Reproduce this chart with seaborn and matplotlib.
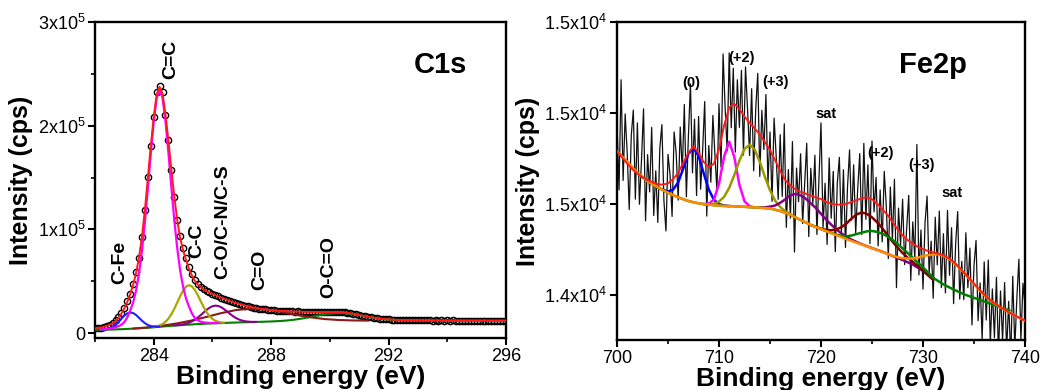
import numpy as np
import matplotlib
matplotlib.use("Agg")
import matplotlib.pyplot as plt
from matplotlib.ticker import MultipleLocator, FixedLocator, FixedFormatter
import seaborn as sns

# ---------------- C1s panel ----------------
c1s_energy = np.round(np.arange(282.0, 296.01, 0.1), 2)
c1s_fit = [4500, 4900, 5400, 6000, 6800, 7900, 9400, 11600, 14700, 18800,
           23800, 30000, 37500, 46500, 58000, 73000, 93000, 119000, 150000, 180000,
           208000, 230000, 237500, 231000, 211000, 186000, 158000, 132000, 109000, 92000,
           80000, 70500, 62000, 55500, 50500, 46800, 44200, 42200, 40500, 39000,
           37700, 36400, 35200, 34000, 32900, 31800, 30800, 29800, 28900, 28000,
           27200, 26500, 25800, 25200, 24600, 24100, 23600, 23200, 22800, 22400,
           22100, 21800, 21600, 21400, 21200, 21000, 20900, 20800, 20700, 20600,
           20500, 20400, 20350, 20300, 20300, 20300, 20300, 20300, 20300, 20300,
           20300, 20250, 20200, 20100, 20000, 19800, 19500, 19100, 18600, 18000,
           17400, 16800, 16200, 15700, 15300, 14800, 14350, 13950, 13600, 13350,
           13150, 12950, 12800, 12650, 12550, 12450, 12380, 12320, 12270, 12220,
           12170, 12140, 12130, 12120, 12110, 12100, 12090, 12080, 12070, 12060,
           12050, 12040, 12030, 12020, 12010, 12000, 11990, 11980, 11970, 11960,
           11950, 11945, 11940, 11935, 11930, 11925, 11920, 11915, 11910, 11905,
           11900]
c1s_counts = [4700, 5100, 5300, 6200, 6900, 8100, 9700, 12100, 15400, 19500,
              24500, 30500, 38000, 47500, 58500, 72500, 92500, 118500, 150500, 180500,
              208500, 232000, 238500, 232000, 210500, 186000, 157500, 131500, 109500, 94000,
              82000, 72000, 63500, 56500, 51000, 47000, 44300, 42100, 40600, 39200,
              37900, 36300, 35400, 34200, 33000, 32000, 30700, 29900, 29100, 28100,
              27400, 26400, 26000, 25300, 24500, 24300, 23500, 23300, 22700, 22600,
              22000, 21900, 21500, 21600, 21100, 21200, 20800, 21000, 20600, 20800,
              20400, 20600, 20200, 20500, 20200, 20500, 20200, 20400, 20100, 20500,
              20200, 20500, 20100, 20300, 19900, 19900, 19600, 19000, 18700, 17900,
              17500, 16700, 16300, 15600, 15400, 14700, 14400, 13900, 13700, 13300,
              13200, 12900, 12900, 12600, 12600, 12400, 12450, 12280, 12330, 12180,
              12240, 12100, 12190, 12080, 12170, 12050, 12150, 12030, 12120, 12010,
              12110, 11990, 12090, 11970, 12070, 11950, 12050, 11930, 12030, 11920,
              12010, 11900, 11990, 11880, 11980, 11870, 11970, 11860, 11960, 11850,
              11900]

cfe_x = np.round(np.arange(282.2, 284.21, 0.1), 2)
cfe_y = [3220, 3450, 3900, 4710, 6050, 8070, 10750, 13820, 16770, 18970, 19870,
         19260, 17350, 14690, 11910, 9520, 7790, 6740, 6220, 6070, 6135]

cc2_x = np.round(np.arange(282.2, 286.21, 0.1), 2)
cc2_y = [3300, 3560, 3830, 4300, 4880, 5570, 6570, 8000, 10600, 15200,
         21570, 29620, 41280, 57450, 79430, 107020, 139120, 172930, 203950, 226580,
         235020, 227060, 204900, 174340, 140970, 109290, 82100, 60500, 44690, 33370,
         25650, 19000, 14500, 12200, 10900, 10300, 9950, 9750, 9650, 9600, 9630]

cc_x = np.round(np.arange(284.0, 286.41, 0.1), 2)
cc_y = [5825, 6380, 7260, 8640, 10750, 13840, 18070, 23290, 29400, 35500,
        40890, 44670, 46150, 45020, 41580, 36530, 30780, 25020, 20150, 16280,
        13550, 11800, 10770, 10240, 10015]

co_x = np.round(np.arange(284.7, 287.51, 0.1), 2)
co_y = [7265, 7570, 7915, 8400, 9030, 9950, 11210, 12850, 14890, 17280,
        19830, 22290, 24390, 25830, 26420, 26060, 24850, 22980, 20750, 18430,
        16280, 14480, 13090, 12080, 11420, 11040, 10815, 10750, 10725]

cdo_x = np.round(np.arange(283.3, 291.31, 0.5), 2)
cdo_y = [4314, 5420, 7070, 9300, 12120, 15550, 19200, 22150, 23500, 22870,
         20660, 17820, 15300, 13540, 12560, 12130, 11984]

occo_x = [282.0, 282.5, 283.0, 283.5, 284.0, 284.5, 285.0, 285.5, 286.0, 286.5,
          287.0, 287.5, 288.0, 288.25, 288.5, 288.75, 289.0, 289.25, 289.5, 289.75,
          290.0, 290.25, 290.5, 290.75, 291.0, 291.25, 291.5, 291.75, 292.0, 292.25,
          292.5, 293.0, 293.5, 294.0, 294.5, 295.0, 295.5, 296.0]
occo_y = [3000, 3300, 3800, 4550, 5550, 6740, 7790, 8630, 9300, 9840,
          10320, 10680, 11140, 11490, 12000, 12720, 13730, 14975, 16370, 17690,
          18740, 19230, 19090, 18340, 17200, 15895, 14670, 13667, 12950, 12483,
          12210, 12010, 11960, 11960, 11950, 11930, 11915, 11900]

c1s_labels = ["C-Fe", "C=C", "C-C", "C-O/C-N/C-S", "C=O", "O-C=O"]
c1s_label_x = [282.85, 284.58, 285.46, 286.34, 287.62, 289.95]
c1s_label_y = [68000, 264000, 89000, 107500, 61000, 64000]

# ---------------- Fe2p panel ----------------
fe_energy = np.round(np.arange(700.0, 740.01, 0.2), 2)
fe_counts = [14940, 14576, 15182, 14628, 14994, 14780, 14468, 14876, 15015, 14525,
             14945, 14497, 14739, 15022, 14406, 14770, 14565, 14920, 14435, 14681,
             14397, 14806, 14935, 14517, 14350, 14772, 14660, 14430, 14895, 14780,
             14520, 14922, 14674, 15046, 14538, 14870, 15160, 14670, 14965, 14545,
             14980, 14580, 14800, 15062, 14432, 14820, 14618, 14986, 14770, 14570,
             15050, 14702, 15324, 15030, 14790, 15330, 14918, 15246, 14784, 15182,
             14920, 15234, 14768, 15253, 15019, 14765, 15133, 14681, 15021, 15217,
             14650, 15014, 14798, 15101, 14613, 14895, 14513, 14971, 14768, 14524,
             14880, 14540, 14940, 14370, 14688, 14420, 14842, 14234, 14696, 14511,
             14775, 14391, 14607, 14833, 14319, 14695, 14501, 14767, 14331, 14639,
             14945, 14369, 14613, 14276, 14752, 14420, 14678, 14236, 14615, 14755,
             14335, 14687, 14259, 14592, 14796, 14410, 14714, 14338, 14582, 14776,
             14330, 14832, 14414, 14714, 14281, 14845, 14455, 14645, 14268, 14576,
             14290, 14678, 14486, 14198, 14592, 14300, 14634, 14038, 14476, 14272,
             14525, 14165, 14365, 14546, 14078, 14400, 14193, 14826, 14108, 14355,
             14030, 14396, 14542, 14118, 14294, 13980, 14426, 14163, 14460, 14038,
             14335, 14009, 14463, 14106, 14368, 13950, 14279, 14457, 13975, 14183,
             13972, 14340, 14038, 14256, 13833, 14160, 14298, 13856, 14064, 13752,
             14180, 13860, 14190, 13730, 14031, 13763, 14095, 13668, 14020, 13743,
             14066, 13690, 13963, 13647, 14101, 13705, 13979, 14194, 13748, 14062,
             13937]

fe_grid = np.round(np.arange(700.0, 740.01, 0.5), 2)
fe_fit = [14790, 14755, 14720, 14690, 14665, 14645, 14630, 14618, 14607, 14605,
          14612, 14635, 14670, 14725, 14780, 14815, 14780, 14730, 14700, 14720,
          14800, 14930, 15030, 15050, 15020, 14980, 14945, 14915, 14880, 14840,
          14795, 14740, 14680, 14630, 14600, 14580, 14565, 14555, 14545, 14535,
          14525, 14510, 14500, 14495, 14495, 14500, 14510, 14520, 14530, 14535,
          14525, 14500, 14470, 14440, 14400, 14360, 14325, 14300, 14280, 14262,
          14250, 14240, 14232, 14226, 14216, 14200, 14180, 14152, 14122, 14092,
          14060, 14030, 14000, 13975, 13953, 13934, 13916, 13900, 13885, 13871,
          13857]
fe_sat2 = [14790, 14760, 14730, 14700, 14670, 14647, 14625, 14607, 14590, 14575,
           14560, 14547, 14535, 14525, 14515, 14508, 14502, 14498, 14495, 14492,
           14490, 14488, 14487, 14486, 14484, 14483, 14481, 14480, 14478, 14476,
           14474, 14467, 14460, 14450, 14440, 14425, 14410, 14397, 14383, 14372,
           14360, 14349, 14338, 14327, 14316, 14305, 14295, 14285, 14275, 14265,
           14255, 14245, 14235, 14225, 14214, 14206, 14200, 14198, 14199, 14203,
           14212, 14217, 14220, 14222, 14214, 14199, 14177, 14151, 14121, 14089,
           14057, 14027, 13998, 13973, 13952, 13933, 13915, 13899, 13884, 13870,
           13856]

fe0_x = np.round(np.arange(704.0, 711.01, 0.5), 2)
fe0_y = [14590, 14577, 14568, 14577, 14618, 14694, 14775, 14808, 14762, 14667,
         14578, 14522, 14498, 14490, 14487]

fe2_x = np.round(np.arange(708.5, 713.51, 0.5), 2)
fe2_y = [14498, 14500, 14523, 14610, 14759, 14842, 14757, 14604, 14514, 14486, 14480]

fe3_x = np.round(np.arange(709.0, 717.01, 0.5), 2)
fe3_y = [14497, 14500, 14512, 14538, 14587, 14658, 14737, 14801, 14825, 14798,
         14731, 14648, 14574, 14517, 14482, 14458, 14442]

sat1_x = np.round(np.arange(714.0, 731.01, 0.5), 2)
sat1_y = [14479, 14480, 14484, 14490, 14505, 14524, 14546, 14554, 14546, 14528,
          14502, 14476, 14444, 14413, 14385, 14359, 14337, 14318, 14302, 14289,
          14277, 14266, 14256, 14246, 14236, 14225, 14213, 14201, 14190, 14178,
          14165, 14148, 14130, 14106, 14082]

fe2b_x = np.round(np.arange(719.0, 731.01, 0.5), 2)
fe2b_y = [14383, 14373, 14363, 14356, 14354, 14358, 14371, 14391, 14419, 14441,
          14452, 14444, 14425, 14398, 14366, 14329, 14292, 14259, 14229, 14203,
          14180, 14157, 14135, 14108, 14082]

fe3b_x = np.round(np.arange(700.0, 738.51, 0.5), 2)
fe3b_y = [14790, 14760, 14730, 14700, 14670, 14647, 14625, 14607, 14590, 14575,
          14560, 14547, 14535, 14525, 14515, 14508, 14502, 14498, 14495, 14492,
          14490, 14488, 14487, 14486, 14484, 14483, 14481, 14480, 14478, 14476,
          14474, 14467, 14460, 14450, 14440, 14425, 14410, 14397, 14383, 14372,
          14360, 14349, 14339, 14330, 14324, 14321, 14325, 14333, 14341, 14348,
          14350, 14345, 14335, 14321, 14302, 14279, 14254, 14228, 14203, 14176,
          14150, 14121, 14093, 14074, 14056, 14042, 14028, 14015, 14002, 13992,
          13982, 13972, 13962, 13952, 13942, 13932, 13922, 13912]

fe_labels = ["(0)", "(+2)", "(+3)", "sat", "(+2)", "(+3)", "sat"]
fe_label_x = [707.3, 712.2, 715.5, 720.5, 725.8, 729.9, 732.8]
fe_label_y = [15166, 15300, 15171, 14994, 14777, 14713, 14557]

fe_yticks = [14000, 14500, 15000, 15500]
fe_yticklabels = ["1.4x10^4", "1.5x10^4", "1.5x10^4", "1.5x10^4"]
c1s_yticks = [0, 100000, 200000, 300000]
c1s_yticklabels = ["0", "1x10^5", "2x10^5", "3x10^5"]

# ---------------- styling ----------------
sns.set_theme(style="ticks")
plt.rcParams["font.family"] = ["Liberation Sans", "DejaVu Sans"]
plt.rcParams.update({
    "mathtext.fontset": "custom",
    "mathtext.rm": "Liberation Sans",
    "mathtext.it": "Liberation Sans:italic",
    "mathtext.bf": "Liberation Sans:bold",
    "axes.edgecolor": "black",
    "axes.linewidth": 1.7,
    "xtick.color": "black",
    "ytick.color": "black",
    "text.color": "black",
    "axes.labelcolor": "black",
    "xtick.direction": "out",
    "ytick.direction": "out",
})

fig = plt.figure(figsize=(10.48, 3.9), dpi=100)
ax1 = fig.add_axes([95 / 1048, 52 / 390, 411 / 1048, 316 / 390])
ax2 = fig.add_axes([617 / 1048, 50 / 390, 408 / 1048, 318 / 390])


def line(ax, x, y, color, lw, z):
    sns.lineplot(x=list(x), y=list(y), ax=ax, color=color, lw=lw, sort=False,
                 estimator=None, legend=False, zorder=z)


# C1s
sns.lineplot(x=list(c1s_energy), y=c1s_counts, ax=ax1, sort=False, estimator=None,
             legend=False, linestyle="", marker="o", markersize=4.5,
             markerfacecolor="none", markeredgecolor="black", markeredgewidth=1.0,
             zorder=2)
line(ax1, occo_x, occo_y, "#008000", 1.5, 3)
line(ax1, cdo_x, cdo_y, "#8b1a1a", 1.5, 3)
line(ax1, co_x, co_y, "#8b008b", 1.5, 3)
line(ax1, cc_x, cc_y, "#a8a800", 1.6, 3)
line(ax1, cfe_x, cfe_y, "#1f1fff", 1.5, 3)
line(ax1, cc2_x, cc2_y, "#ff00ff", 1.6, 3)
line(ax1, c1s_energy, c1s_fit, "#ff1a1a", 1.4, 4)

for t, x, y in zip(c1s_labels, c1s_label_x, c1s_label_y):
    ax1.text(x, y, t, rotation=90, ha="center", va="center", fontsize=14,
             fontweight="bold")
ax1.text(0.84, 0.865, "C1s", transform=ax1.transAxes, ha="center", va="center",
         fontsize=21, fontweight="bold")

ax1.set_xlim(282.0, 296.0)
ax1.set_ylim(-4800, 300000)
ax1.xaxis.set_major_locator(FixedLocator([284, 288, 292, 296]))
ax1.xaxis.set_minor_locator(MultipleLocator(2))
ax1.yaxis.set_major_locator(FixedLocator(c1s_yticks))
ax1.yaxis.set_major_formatter(FixedFormatter(
    [r"$\mathregular{%s}$" % s if "^" in s else s for s in c1s_yticklabels]))
ax1.yaxis.set_minor_locator(MultipleLocator(50000))

# Fe2p
line(ax2, fe_energy, fe_counts, "#111111", 0.9, 2)
line(ax2, fe0_x, fe0_y, "#0000ff", 1.8, 3)
line(ax2, fe2_x, fe2_y, "#ff00ff", 1.8, 3)
line(ax2, fe3_x, fe3_y, "#999900", 1.8, 3)
line(ax2, sat1_x, sat1_y, "#800080", 1.8, 3)
line(ax2, fe2b_x, fe2b_y, "#800000", 1.8, 3)
line(ax2, fe3b_x, fe3b_y, "#008000", 1.8, 3)
line(ax2, fe_grid, fe_sat2, "#ff8c00", 1.8, 3)
line(ax2, fe_grid, fe_fit, "#ff1a1a", 1.4, 4)

for t, x, y in zip(fe_labels, fe_label_x, fe_label_y):
    ax2.text(x, y, t, ha="center", va="center", fontsize=10.5, fontweight="bold")
ax2.text(0.775, 0.865, "Fe2p", transform=ax2.transAxes, ha="center", va="center",
         fontsize=21, fontweight="bold")

ax2.set_xlim(700, 740)
ax2.set_ylim(13750, 15500)
ax2.xaxis.set_major_locator(MultipleLocator(10))
ax2.xaxis.set_minor_locator(MultipleLocator(5))
ax2.yaxis.set_major_locator(FixedLocator(fe_yticks))
ax2.yaxis.set_major_formatter(FixedFormatter(
    [r"$\mathregular{%s}$" % s for s in fe_yticklabels]))

for ax in (ax1, ax2):
    ax.set_xlabel("Binding energy (eV)", fontsize=19, fontweight="bold", labelpad=0)
    ax.set_ylabel("Intensity (cps)", fontsize=18, fontweight="bold", labelpad=3)
    ax.tick_params(axis="both", which="major", labelsize=13, length=5, width=1.5, pad=2)
    ax.tick_params(axis="both", which="minor", length=3, width=1.2)
    for s in ax.spines.values():
        s.set_visible(True)
        s.set_linewidth(1.7)
        s.set_color("black")

fig.savefig("out.png", dpi=100)
